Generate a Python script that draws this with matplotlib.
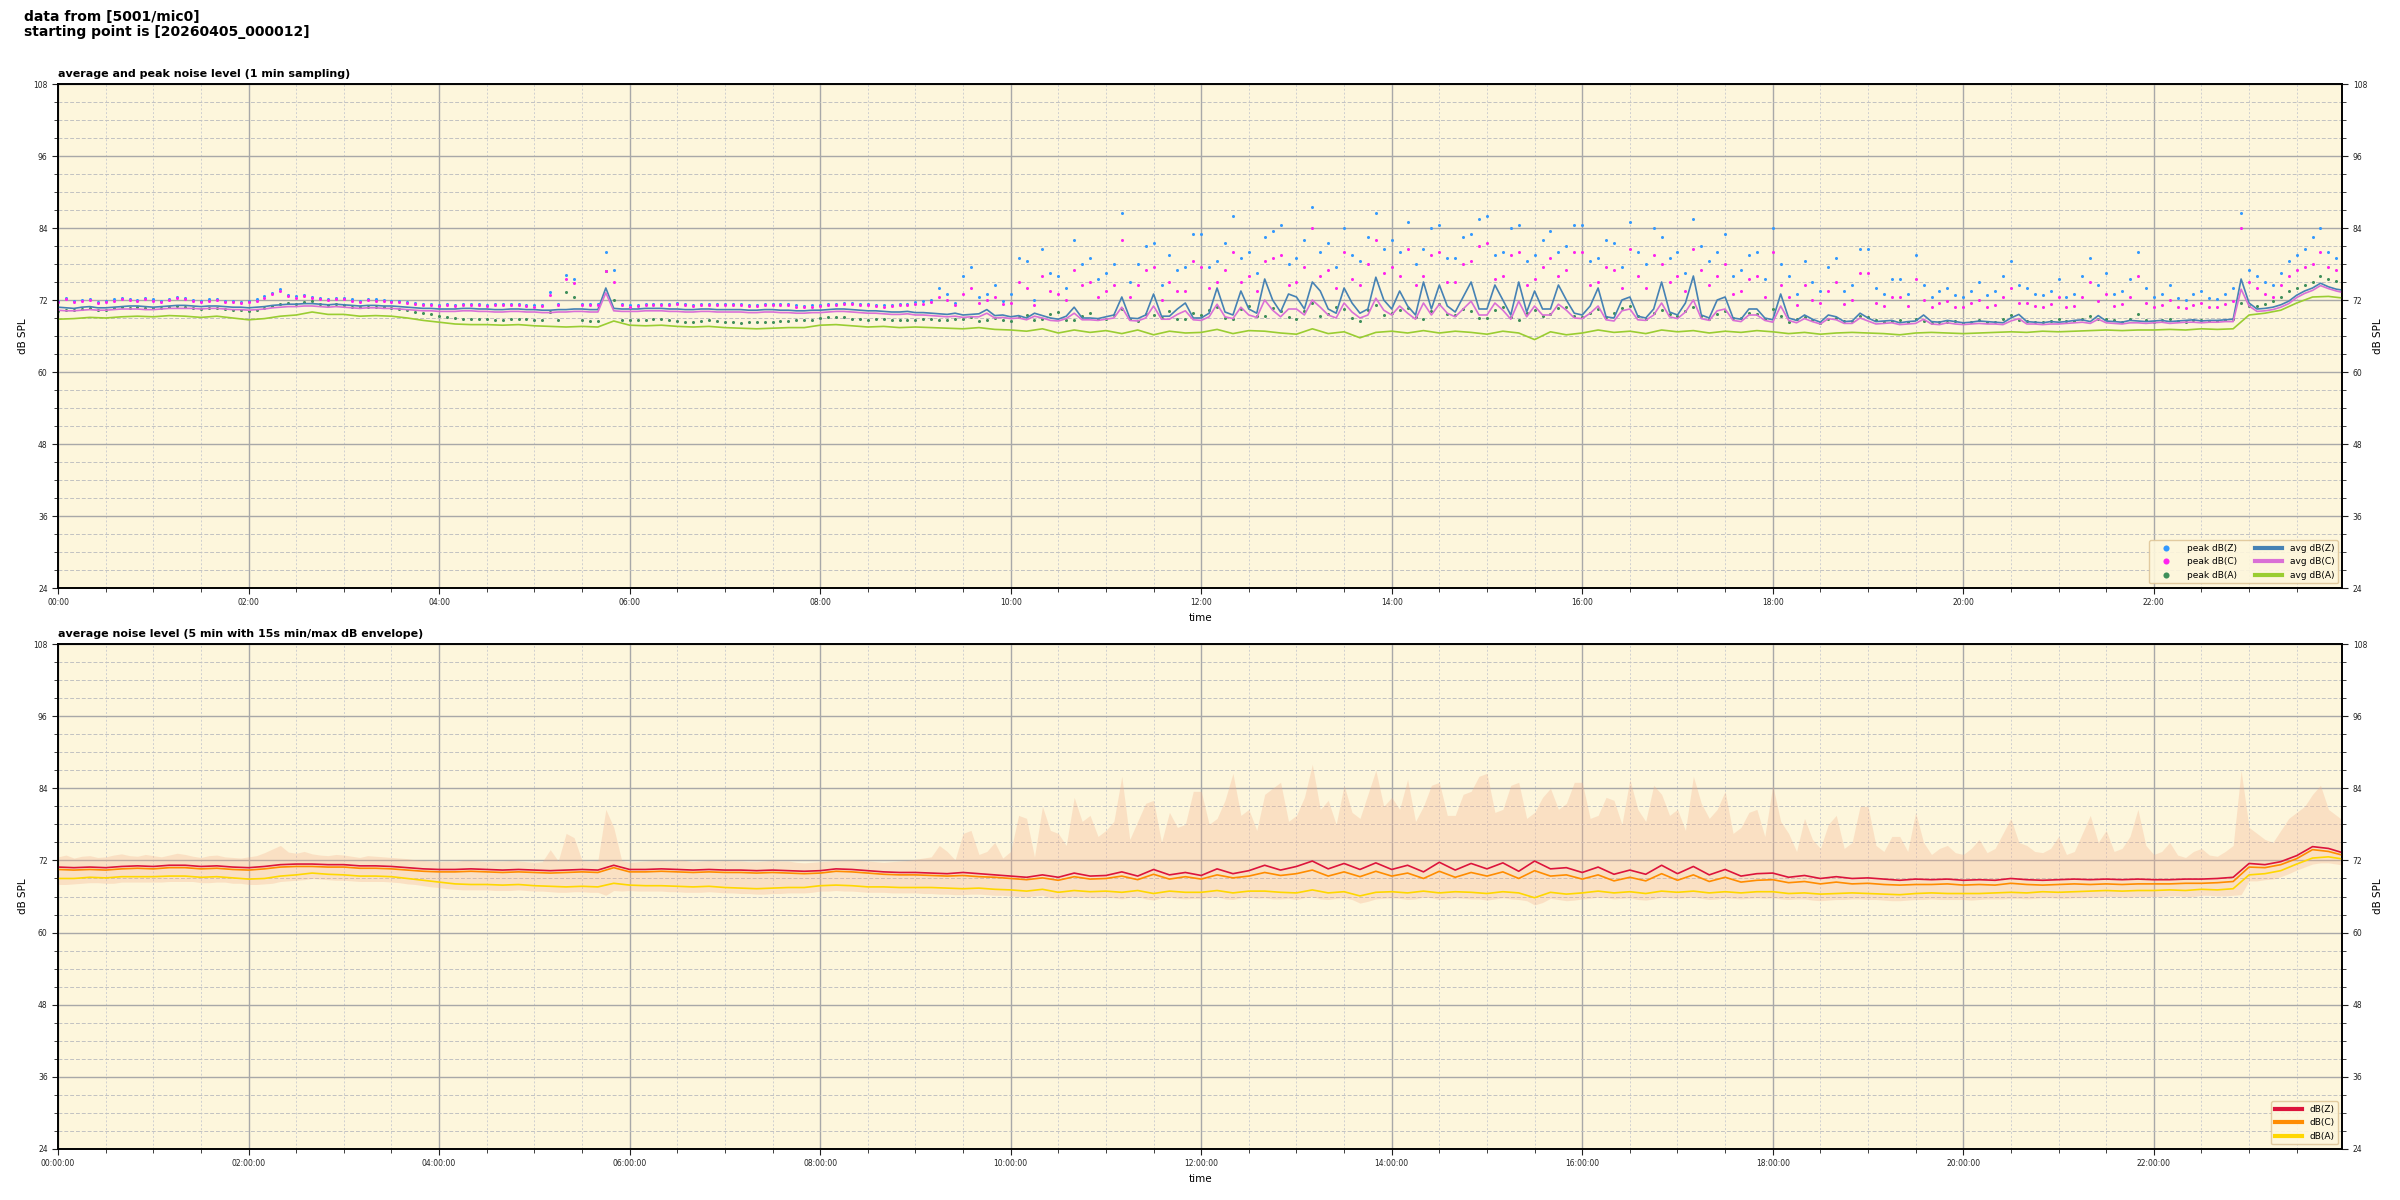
import numpy as np
import matplotlib
matplotlib.use("Agg")
import matplotlib.pyplot as plt
from matplotlib.ticker import MultipleLocator, FuncFormatter

# ---------------- data: 5-min resolution series (12 values per hour) ----------------
avg_z = [70.8, 70.7, 70.6, 70.8, 70.9, 70.7, 70.7, 70.8, 70.9, 71.0, 71.0, 70.9,
         70.8, 70.9, 71.0, 71.1, 71.1, 71.0, 70.9, 71.0, 71.0, 70.9, 70.8, 70.8,
         70.7, 70.8, 70.9, 71.1, 71.2, 71.3, 71.3, 71.4, 71.4, 71.3, 71.2, 71.3,
         71.2, 71.1, 71.0, 71.1, 71.1, 71.0, 71.0, 70.9, 70.8, 70.7, 70.6, 70.6,
         70.5, 70.5, 70.5, 70.6, 70.6, 70.5, 70.5, 70.4, 70.4, 70.5, 70.5, 70.4,
         70.4, 70.3, 70.3, 70.4, 70.4, 70.5, 70.5, 70.4, 70.4, 74.0, 70.6, 70.5,
         70.5, 70.5, 70.6, 70.6, 70.6, 70.5, 70.5, 70.4, 70.4, 70.5, 70.5, 70.4,
         70.4, 70.4, 70.4, 70.3, 70.3, 70.4, 70.4, 70.3, 70.3, 70.2, 70.2, 70.3,
         70.3, 70.4, 70.5, 70.5, 70.4, 70.3, 70.2, 70.2, 70.1, 70.0, 70.0, 70.1,
         69.9, 69.9, 69.8, 69.7, 69.6, 69.8, 69.5, 69.6, 69.7, 70.4, 69.4, 69.5,
         69.2, 69.4, 69.0, 69.8, 69.4, 69.0, 68.8, 69.3, 70.8, 69.0, 69.0, 68.9,
         69.2, 69.5, 72.5, 69.0, 68.9, 69.5, 73.0, 69.3, 69.3, 70.5, 71.5, 69.0,
         69.0, 69.8, 74.0, 70.0, 69.5, 73.5, 70.5, 69.8, 75.5, 72.0, 70.0, 73.0,
         72.5, 70.5, 75.0, 73.5, 70.5, 69.8, 74.0, 71.5, 69.8, 70.5, 75.8, 72.0,
         70.5, 73.5, 71.0, 69.5, 75.0, 70.5, 74.5, 71.0, 70.0, 72.5, 75.0, 70.5,
         70.5, 74.5, 72.0, 69.5, 75.0, 70.0, 73.5, 70.5, 70.5, 74.5, 72.0, 69.8,
         69.5, 71.0, 74.0, 69.2, 69.0, 72.0, 72.5, 69.3, 69.0, 70.5, 75.0, 70.0,
         69.5, 71.5, 76.0, 69.5, 69.0, 72.0, 72.5, 69.0, 68.8, 70.5, 70.5, 69.0,
         68.7, 73.0, 69.0, 68.6, 69.5, 68.8, 68.3, 69.5, 69.2, 68.4, 68.5, 69.8,
         69.0, 68.4, 68.5, 68.6, 68.2, 68.4, 68.5, 69.5, 68.4, 68.3, 68.6, 68.4,
         68.2, 68.3, 68.5, 68.4, 68.3, 68.2, 69.0, 69.6, 68.4, 68.3, 68.2, 68.4,
         68.3, 68.4, 68.6, 68.7, 68.4, 69.4, 68.5, 68.4, 68.3, 68.6, 68.5, 68.4,
         68.5, 68.6, 68.4, 68.5, 68.6, 68.7, 68.5, 68.6, 68.6, 68.7, 68.8, 75.5,
         71.5, 70.5, 70.6, 70.8, 71.2, 71.8, 72.8, 73.5, 74.0, 74.8, 74.2, 73.8,
         73.6]
avg_c = [70.3, 70.2, 70.2, 70.3, 70.4, 70.3, 70.3, 70.4, 70.5, 70.5, 70.5, 70.4,
         70.4, 70.5, 70.6, 70.6, 70.6, 70.6, 70.5, 70.6, 70.6, 70.5, 70.4, 70.4,
         70.3, 70.4, 70.5, 70.7, 70.8, 70.9, 70.9, 71.0, 71.0, 70.9, 70.8, 70.9,
         70.8, 70.7, 70.6, 70.7, 70.7, 70.6, 70.6, 70.5, 70.4, 70.3, 70.2, 70.2,
         70.1, 70.1, 70.1, 70.2, 70.2, 70.1, 70.1, 70.0, 70.0, 70.1, 70.1, 70.0,
         70.0, 69.9, 69.9, 70.0, 70.0, 70.1, 70.1, 70.0, 70.0, 73.2, 70.2, 70.1,
         70.1, 70.1, 70.2, 70.2, 70.2, 70.1, 70.1, 70.0, 70.0, 70.1, 70.1, 70.0,
         70.0, 70.0, 70.0, 69.9, 69.9, 70.0, 70.0, 69.9, 69.9, 69.8, 69.8, 69.9,
         69.9, 70.0, 70.1, 70.1, 70.0, 69.9, 69.8, 69.8, 69.7, 69.6, 69.6, 69.7,
         69.5, 69.5, 69.4, 69.3, 69.2, 69.3, 69.1, 69.2, 69.2, 69.8, 69.0, 69.1,
         68.9, 69.0, 68.7, 69.3, 69.0, 68.6, 68.5, 68.9, 69.8, 68.7, 68.7, 68.6,
         68.8, 69.0, 70.8, 68.6, 68.5, 69.0, 71.0, 68.8, 68.8, 69.6, 70.2, 68.7,
         68.6, 69.2, 71.3, 69.2, 68.9, 70.8, 69.5, 69.1, 72.0, 70.3, 69.2, 70.5,
         70.5, 69.5, 72.0, 70.8, 69.5, 69.0, 71.5, 70.0, 69.0, 69.5, 72.3, 70.3,
         69.5, 71.0, 69.8, 68.8, 71.5, 69.5, 71.3, 69.8, 69.2, 70.5, 71.8, 69.5,
         69.5, 71.5, 70.3, 68.8, 71.8, 69.2, 71.0, 69.5, 69.5, 71.3, 70.3, 69.0,
         68.9, 69.8, 71.0, 68.7, 68.5, 70.2, 70.5, 68.7, 68.6, 69.5, 71.5, 69.2,
         68.9, 70.0, 72.0, 68.9, 68.6, 70.2, 70.5, 68.6, 68.4, 69.5, 69.5, 68.6,
         68.3, 71.0, 68.6, 68.2, 68.9, 68.4, 68.0, 68.9, 68.7, 68.1, 68.1, 69.0,
         68.5, 68.0, 68.1, 68.2, 67.9, 68.0, 68.1, 68.8, 68.0, 67.9, 68.2, 68.0,
         67.9, 68.0, 68.1, 68.0, 68.0, 67.9, 68.5, 68.9, 68.0, 68.0, 67.9, 68.0,
         68.0, 68.1, 68.2, 68.3, 68.1, 68.8, 68.2, 68.1, 68.0, 68.2, 68.2, 68.1,
         68.2, 68.3, 68.1, 68.2, 68.3, 68.3, 68.2, 68.3, 68.3, 68.4, 68.4, 73.8,
         71.0, 70.1, 70.2, 70.4, 70.8, 71.4, 72.4, 73.1, 73.6, 74.4, 73.9, 73.5,
         73.2]
peak_z = [71.9, 72.3, 71.8, 72.0, 72.2, 71.7, 71.9, 72.1, 72.4, 72.2, 72.0, 72.3,
          72.1, 71.9, 72.2, 72.5, 72.4, 72.0, 71.8, 72.1, 72.2, 71.9, 71.8, 71.7,
          71.9, 72.1, 72.6, 73.2, 73.8, 72.8, 72.6, 72.9, 72.5, 72.3, 72.2, 72.4,
          72.3, 72.1, 71.9, 72.2, 72.1, 72.0, 71.9, 71.8, 71.7, 71.5, 71.4, 71.3,
          71.2, 71.3, 71.2, 71.4, 71.4, 71.3, 71.2, 71.3, 71.3, 71.4, 71.3, 71.2,
          71.1, 71.2, 73.3, 71.3, 76.2, 75.5, 71.4, 71.3, 71.4, 80.0, 77.0, 71.4,
          71.1, 71.2, 71.3, 71.4, 71.4, 71.3, 71.5, 71.4, 71.2, 71.3, 71.4, 71.3,
          71.4, 71.3, 71.3, 71.2, 71.2, 71.3, 71.4, 71.3, 71.3, 71.1, 71.0, 71.1,
          71.2, 71.3, 71.4, 71.5, 71.5, 71.4, 71.3, 71.2, 71.1, 71.2, 71.3, 71.4,
          71.6, 71.8, 72.0, 74.0, 73.0, 71.5, 76.0, 77.5, 72.5, 73.0, 74.5, 71.8,
          73.0, 79.0, 78.5, 72.0, 80.5, 76.5, 76.0, 74.0, 82.0, 78.0, 79.0, 75.5,
          76.5, 78.0, 86.5, 75.0, 78.0, 81.0, 81.5, 74.5, 79.5, 77.0, 77.5, 83.0,
          83.0, 77.5, 78.5, 81.5, 86.0, 79.0, 80.0, 76.5, 82.5, 83.5, 84.5, 78.0,
          79.0, 82.0, 87.5, 80.0, 81.5, 77.5, 84.0, 79.5, 78.5, 82.5, 86.5, 80.5,
          82.0, 80.0, 85.0, 78.0, 80.5, 84.0, 84.5, 79.0, 79.0, 82.5, 83.0, 85.5,
          86.0, 79.5, 80.0, 84.0, 84.5, 78.5, 79.5, 82.0, 83.5, 80.0, 81.0, 84.5,
          84.5, 78.5, 79.0, 82.0, 81.5, 77.5, 85.0, 80.0, 78.0, 84.0, 82.5, 79.0,
          80.0, 76.5, 85.5, 81.0, 78.5, 80.0, 83.0, 76.0, 77.0, 79.5, 80.0, 75.5,
          84.0, 78.0, 76.0, 73.0, 78.5, 75.0, 73.5, 77.5, 79.0, 73.5, 74.5, 80.5,
          80.5, 74.0, 73.0, 75.5, 75.5, 73.0, 79.5, 74.5, 72.5, 73.5, 74.0, 72.8,
          72.5, 73.5, 75.0, 72.8, 73.5, 76.0, 78.5, 74.5, 74.0, 73.0, 72.8, 73.5,
          75.5, 72.5, 73.0, 76.0, 79.0, 74.5, 76.5, 73.0, 73.5, 75.5, 80.0, 74.0,
          72.5, 73.0, 74.5, 72.4, 72.0, 73.0, 73.5, 72.4, 72.2, 73.0, 74.0, 86.5,
          77.0, 76.0, 75.0, 74.5, 76.5, 78.5, 79.5, 80.5, 82.5, 84.0, 80.0, 79.0,
          78.0]
peak_c = [71.7, 72.1, 71.6, 71.8, 72.0, 71.5, 71.7, 71.9, 72.2, 72.0, 71.8, 72.1,
          71.9, 71.7, 72.0, 72.3, 72.2, 71.8, 71.6, 71.9, 72.0, 71.7, 71.6, 71.5,
          71.7, 71.9, 72.4, 73.0, 73.5, 72.6, 72.4, 72.7, 72.3, 72.1, 72.0, 72.2,
          72.1, 71.9, 71.7, 72.0, 71.9, 71.8, 71.7, 71.6, 71.5, 71.3, 71.2, 71.1,
          71.0, 71.1, 71.0, 71.2, 71.2, 71.1, 71.0, 71.1, 71.1, 71.2, 71.1, 71.0,
          70.9, 71.0, 72.8, 71.1, 75.5, 74.8, 71.2, 71.1, 71.2, 76.9, 75.0, 71.2,
          70.9, 71.0, 71.1, 71.2, 71.2, 71.1, 71.3, 71.2, 71.0, 71.1, 71.2, 71.1,
          71.2, 71.1, 71.1, 71.0, 71.0, 71.1, 71.2, 71.1, 71.1, 70.9, 70.8, 70.9,
          71.0, 71.1, 71.2, 71.3, 71.3, 71.2, 71.1, 71.0, 70.9, 71.0, 71.1, 71.2,
          71.3, 71.4, 71.6, 72.5, 72.0, 71.2, 73.0, 74.0, 71.5, 72.0, 72.5, 71.3,
          71.5, 75.0, 74.0, 71.2, 76.0, 73.5, 73.0, 72.0, 77.0, 74.5, 75.0, 72.5,
          73.5, 74.5, 82.0, 72.5, 74.5, 77.0, 77.5, 72.0, 75.0, 73.5, 73.5, 78.5,
          77.5, 74.0, 75.0, 77.0, 80.0, 75.0, 76.0, 73.5, 78.5, 79.0, 79.5, 74.5,
          75.0, 77.5, 84.0, 76.0, 77.0, 74.0, 80.0, 75.5, 74.5, 78.0, 82.0, 76.5,
          77.5, 76.0, 80.5, 74.5, 76.0, 79.5, 80.0, 75.0, 75.0, 78.0, 78.5, 81.0,
          81.5, 75.5, 76.0, 79.5, 80.0, 74.5, 75.5, 77.5, 79.0, 76.0, 77.0, 80.0,
          80.0, 74.5, 75.0, 77.5, 77.0, 74.0, 80.5, 76.0, 74.0, 79.5, 78.0, 75.0,
          76.0, 73.5, 80.5, 77.0, 74.5, 76.0, 78.0, 73.0, 73.5, 75.5, 76.0, 72.5,
          80.0, 74.5, 72.5, 71.2, 74.5, 72.0, 71.5, 73.5, 75.0, 71.3, 72.0, 76.5,
          76.5, 71.5, 71.0, 72.5, 72.5, 71.0, 75.5, 72.0, 70.8, 71.5, 71.8, 70.9,
          70.8, 71.5, 72.0, 70.9, 71.2, 72.5, 74.0, 71.5, 71.5, 71.0, 70.9, 71.3,
          72.5, 70.9, 71.0, 72.5, 75.0, 71.8, 73.0, 71.0, 71.3, 72.5, 76.0, 71.5,
          70.9, 71.2, 72.0, 70.8, 70.7, 71.2, 71.5, 70.8, 70.9, 71.3, 71.8, 84.0,
          75.0, 74.0, 73.0, 72.5, 74.5, 76.0, 77.0, 77.5, 78.0, 80.0, 77.5, 77.0,
          76.5]
peak_a = [70.2, 70.4, 70.3, 70.5, 70.6, 70.4, 70.4, 70.6, 70.8, 70.7, 70.8, 70.7,
          70.6, 70.7, 70.9, 71.0, 70.8, 70.6, 70.5, 70.7, 70.7, 70.5, 70.4, 70.3,
          70.2, 70.4, 70.6, 71.0, 71.3, 71.5, 71.4, 71.6, 71.8, 71.4, 71.2, 71.3,
          71.1, 70.9, 70.8, 70.9, 70.9, 70.8, 70.7, 70.5, 70.3, 70.0, 69.8, 69.6,
          69.3, 69.1, 69.0, 68.9, 68.9, 68.8, 68.8, 68.7, 68.7, 68.8, 68.9, 68.8,
          68.6, 68.7, 70.0, 68.6, 73.3, 72.5, 68.6, 68.5, 68.5, 76.9, 72.0, 68.6,
          68.7, 68.6, 68.6, 68.8, 68.8, 68.6, 68.5, 68.4, 68.4, 68.5, 68.6, 68.5,
          68.4, 68.3, 68.2, 68.3, 68.3, 68.4, 68.4, 68.5, 68.5, 68.6, 68.6, 68.7,
          69.0, 69.1, 69.2, 69.1, 68.9, 68.8, 68.7, 68.8, 68.8, 68.7, 68.6, 68.7,
          68.7, 68.8, 68.8, 68.7, 68.6, 68.9, 68.9, 69.2, 68.5, 68.6, 69.0, 68.7,
          68.5, 69.2, 69.5, 68.6, 68.8, 69.6, 70.0, 68.7, 68.6, 69.3, 69.8, 68.9,
          68.9, 69.5, 70.5, 68.8, 68.5, 69.7, 69.5, 69.0, 70.2, 68.9, 68.8, 69.8,
          69.5, 70.3, 70.8, 69.0, 68.9, 70.5, 71.0, 69.4, 69.3, 70.7, 70.2, 69.1,
          68.8, 70.2, 71.5, 69.3, 69.6, 70.8, 70.5, 69.0, 68.5, 70.3, 71.2, 69.5,
          69.8, 70.4, 70.6, 69.2, 68.9, 70.2, 71.3, 69.6, 69.5, 70.5, 70.1, 69.0,
          69.0, 70.3, 70.9, 69.1, 68.6, 69.9, 70.4, 69.3, 69.7, 70.6, 70.8, 69.4,
          69.2, 69.9, 70.5, 69.1, 69.8, 70.6, 71.0, 69.4, 68.9, 69.8, 70.3, 69.6,
          69.4, 70.1, 70.9, 69.3, 68.8, 69.7, 70.2, 69.0, 69.0, 69.8, 69.6, 68.9,
          70.5, 69.4, 68.4, 68.9, 69.1, 68.6, 68.2, 68.8, 69.0, 68.5, 68.5, 69.3,
          69.2, 68.6, 68.3, 68.5, 68.6, 68.4, 68.9, 68.5, 68.1, 68.3, 68.4, 68.5,
          68.2, 68.4, 68.6, 68.3, 68.4, 68.8, 69.5, 68.7, 68.5, 68.4, 68.3, 68.5,
          68.8, 68.5, 68.5, 68.9, 69.3, 68.8, 68.9, 68.6, 68.4, 68.9, 69.6, 68.7,
          68.4, 68.6, 68.9, 68.5, 68.3, 68.6, 68.7, 68.5, 68.5, 68.7, 68.8, 71.5,
          71.0, 71.0, 71.3, 71.8, 72.5, 73.5, 74.0, 74.5, 75.0, 76.0, 75.5, 75.2,
          75.0]
env_hi = [72.6, 72.9, 72.4, 72.7, 72.8, 72.5, 72.6, 72.9, 73.1, 72.8, 72.7, 73.0,
          72.8, 72.6, 72.9, 73.2, 73.0, 72.7, 72.5, 72.8, 72.9, 72.6, 72.5, 72.4,
          72.6, 72.8, 73.3, 73.9, 74.5, 73.4, 73.2, 73.5, 73.1, 72.9, 72.8, 73.0,
          72.9, 72.7, 72.5, 72.8, 72.7, 72.6, 72.5, 72.4, 72.3, 72.1, 72.0, 71.9,
          71.8, 71.9, 71.8, 72.0, 72.0, 71.9, 71.8, 71.9, 71.9, 72.0, 71.9, 71.8,
          71.7, 71.8, 73.8, 71.9, 76.5, 75.8, 72.0, 71.9, 72.0, 80.5, 77.5, 72.0,
          71.7, 71.8, 71.9, 72.0, 72.0, 71.9, 72.1, 72.0, 71.8, 71.9, 72.0, 71.9,
          72.0, 71.9, 71.9, 71.8, 71.8, 71.9, 72.0, 71.9, 71.9, 71.7, 71.6, 71.7,
          71.8, 71.9, 72.0, 72.1, 72.1, 72.0, 71.9, 71.8, 71.7, 71.8, 71.9, 72.0,
          72.2, 72.4, 72.6, 74.5, 73.5, 72.1, 76.5, 77.0, 73.0, 73.5, 75.0, 72.4,
          73.5, 79.5, 79.0, 72.6, 81.0, 77.0, 76.5, 74.5, 82.5, 78.5, 79.5, 76.0,
          77.0, 78.5, 86.0, 75.5, 78.5, 81.5, 82.0, 75.0, 80.0, 77.5, 78.0, 83.5,
          83.5, 78.0, 79.0, 82.0, 86.5, 79.5, 80.5, 77.0, 83.0, 84.0, 85.0, 78.5,
          79.5, 82.5, 88.0, 80.5, 82.0, 78.0, 84.5, 80.0, 79.0, 83.0, 87.0, 81.0,
          82.5, 80.5, 85.5, 78.5, 81.0, 84.5, 85.0, 79.5, 79.5, 83.0, 83.5, 86.0,
          86.5, 80.0, 80.5, 84.5, 85.0, 79.0, 80.0, 82.5, 84.0, 80.5, 81.5, 85.0,
          85.0, 79.0, 79.5, 82.5, 82.0, 78.0, 85.5, 80.5, 78.5, 84.5, 83.0, 79.5,
          80.5, 77.0, 86.0, 81.5, 79.0, 80.5, 83.5, 76.5, 77.5, 80.0, 80.5, 76.0,
          84.5, 78.5, 76.5, 73.5, 79.0, 75.5, 74.0, 78.0, 79.5, 74.0, 75.0, 81.0,
          81.0, 74.5, 73.5, 76.0, 76.0, 73.5, 80.0, 75.0, 73.0, 74.0, 74.5, 73.3,
          73.0, 74.0, 75.5, 73.3, 74.0, 76.5, 79.0, 75.0, 74.5, 73.5, 73.3, 74.0,
          76.0, 73.0, 73.5, 76.5, 79.5, 75.0, 77.0, 73.5, 74.0, 76.0, 80.5, 74.5,
          73.0, 73.5, 75.0, 72.9, 72.5, 73.5, 74.0, 72.9, 72.7, 73.5, 74.5, 87.0,
          77.5, 76.5, 75.5, 75.0, 77.0, 79.0, 80.0, 81.0, 83.0, 84.5, 80.5, 79.5,
          78.5]
env_lo = [68.0, 68.0, 68.1, 68.2, 68.3, 68.3, 68.2, 68.2, 68.4, 68.4, 68.4, 68.4,
          68.4, 68.4, 68.5, 68.5, 68.5, 68.5, 68.3, 68.3, 68.4, 68.4, 68.2, 68.2,
          68.0, 68.0, 68.1, 68.2, 68.5, 68.6, 68.7, 68.8, 69.0, 68.9, 68.8, 68.7,
          68.7, 68.6, 68.5, 68.5, 68.5, 68.5, 68.4, 68.3, 68.1, 68.0, 67.8, 67.6,
          67.5, 67.3, 67.2, 67.1, 67.1, 67.1, 67.1, 67.0, 67.0, 67.0, 67.1, 67.0,
          66.9, 66.9, 66.8, 66.7, 66.7, 66.8, 66.8, 66.7, 66.7, 66.2, 67.0, 66.9,
          67.0, 66.9, 66.9, 66.9, 66.9, 66.8, 66.8, 66.7, 66.7, 66.7, 66.8, 66.7,
          66.6, 66.6, 66.5, 66.5, 66.4, 66.4, 66.5, 66.5, 66.6, 66.6, 66.6, 66.7,
          66.9, 66.9, 67.0, 66.9, 66.9, 66.8, 66.7, 66.7, 66.7, 66.6, 66.6, 66.6,
          66.6, 66.5, 66.5, 66.4, 66.4, 66.3, 66.3, 66.4, 66.4, 66.3, 66.2, 66.2,
          66.1, 66.0, 65.9, 66.1, 66.2, 65.8, 65.7, 65.9, 66.0, 65.9, 65.8, 65.8,
          65.9, 65.8, 65.6, 65.9, 66.0, 65.6, 65.4, 65.8, 65.9, 65.7, 65.6, 65.7,
          65.7, 65.9, 66.0, 65.6, 65.5, 65.8, 65.9, 65.7, 65.8, 65.6, 65.6, 65.7,
          65.5, 65.8, 66.0, 65.6, 65.5, 65.7, 65.8, 65.5, 64.9, 65.2, 65.6, 65.7,
          65.8, 65.7, 65.5, 65.6, 65.9, 65.8, 65.5, 65.6, 65.8, 65.7, 65.6, 65.6,
          65.4, 65.6, 65.8, 65.6, 65.5, 65.3, 64.6, 65.0, 65.7, 65.5, 65.3, 65.4,
          65.6, 65.7, 65.9, 65.8, 65.6, 65.7, 65.8, 65.5, 65.4, 65.6, 65.9, 65.8,
          65.7, 65.8, 65.9, 65.7, 65.5, 65.6, 65.8, 65.7, 65.6, 65.7, 65.8, 65.7,
          65.8, 65.6, 65.5, 65.6, 65.6, 65.4, 65.3, 65.4, 65.5, 65.5, 65.6, 65.6,
          65.5, 65.5, 65.4, 65.3, 65.3, 65.4, 65.5, 65.5, 65.6, 65.5, 65.5, 65.5,
          65.5, 65.4, 65.5, 65.6, 65.6, 65.6, 65.7, 65.7, 65.6, 65.7, 65.8, 65.8,
          65.7, 65.7, 65.8, 65.8, 65.9, 65.9, 66.0, 66.0, 65.9, 65.9, 66.0, 66.0,
          66.0, 66.0, 66.1, 66.1, 66.0, 66.0, 66.2, 66.2, 66.1, 66.1, 66.2, 66.3,
          68.6, 68.6, 68.8, 68.9, 69.3, 69.8, 70.4, 70.9, 71.4, 71.6, 71.6, 71.4,
          71.2]

# ---------------- data: 10-min resolution series (6 values per hour) ----------------
avg_a = [68.8, 68.9, 69.1, 69.0, 69.2, 69.3,
         69.2, 69.4, 69.3, 69.1, 69.3, 69.0,
         68.7, 68.9, 69.3, 69.5, 70.0, 69.6,
         69.6, 69.3, 69.4, 69.3, 69.0, 68.6,
         68.3, 68.0, 67.9, 67.9, 67.8, 67.9,
         67.7, 67.6, 67.5, 67.6, 67.5, 68.5,
         67.8, 67.7, 67.8, 67.6, 67.5, 67.6,
         67.4, 67.3, 67.2, 67.3, 67.4, 67.4,
         67.8, 67.9, 67.7, 67.5, 67.6, 67.4,
         67.5, 67.4, 67.3, 67.2, 67.4, 67.1,
         67.0, 66.8, 67.2, 66.5, 67.0, 66.6,
         66.9, 66.4, 67.0, 66.2, 66.8, 66.5,
         66.6, 67.1, 66.4, 66.9, 66.8, 66.5,
         66.3, 67.2, 66.4, 66.7, 65.7, 66.6,
         66.8, 66.5, 66.9, 66.5, 66.8, 66.6,
         66.3, 66.8, 66.5, 65.4, 66.7, 66.2,
         66.5, 67.0, 66.6, 66.8, 66.4, 67.0,
         66.7, 66.9, 66.5, 66.8, 66.6, 66.9,
         66.7, 66.4, 66.6, 66.3, 66.5, 66.6,
         66.5, 66.4, 66.2, 66.5, 66.6, 66.5,
         66.4, 66.5, 66.6, 66.7, 66.6, 66.8,
         66.7, 66.8, 66.9, 67.0, 66.9, 67.0,
         67.0, 67.1, 67.0, 67.2, 67.1, 67.2,
         69.5, 69.8, 70.3, 71.5, 72.5, 72.6,
         72.3]
lvl_z = [70.9, 70.8, 70.9, 70.8, 71.0, 71.1,
         71.0, 71.2, 71.2, 71.0, 71.1, 70.9,
         70.8, 71.0, 71.3, 71.4, 71.4, 71.3,
         71.3, 71.1, 71.1, 71.0, 70.8, 70.6,
         70.5, 70.5, 70.6, 70.5, 70.4, 70.5,
         70.4, 70.3, 70.4, 70.5, 70.4, 71.2,
         70.5, 70.5, 70.6, 70.5, 70.4, 70.5,
         70.4, 70.4, 70.3, 70.4, 70.3, 70.2,
         70.3, 70.6, 70.5, 70.3, 70.1, 70.0,
         70.0, 69.9, 69.8, 70.0, 69.8, 69.6,
         69.4, 69.2, 69.6, 69.2, 69.9, 69.4,
         69.5, 70.1, 69.4, 70.5, 69.6, 70.0,
         69.5, 70.6, 69.8, 70.3, 71.2, 70.4,
         71.0, 71.9, 70.6, 71.5, 70.5, 71.6,
         70.5, 71.2, 70.1, 71.7, 70.4, 71.5,
         70.6, 71.6, 70.2, 71.9, 70.6, 70.8,
         70.0, 70.9, 69.7, 70.4, 69.7, 71.2,
         69.8, 71.0, 69.6, 70.5, 69.4, 69.8,
         69.9, 69.2, 69.5, 69.0, 69.3, 69.0,
         69.1, 68.9, 68.7, 68.9, 68.8, 68.9,
         68.7, 68.8, 68.7, 69.0, 68.8, 68.7,
         68.8, 68.9, 68.8, 68.9, 68.8, 68.9,
         68.8, 68.8, 68.9, 68.9, 69.0, 69.2,
         71.5, 71.3, 71.8, 72.8, 74.3, 74.0,
         73.2]
lvl_c = [70.5, 70.4, 70.5, 70.4, 70.6, 70.7,
         70.6, 70.8, 70.8, 70.6, 70.7, 70.5,
         70.4, 70.6, 70.9, 71.0, 71.0, 70.9,
         70.9, 70.7, 70.7, 70.6, 70.4, 70.2,
         70.1, 70.1, 70.2, 70.1, 70.0, 70.1,
         70.0, 69.9, 70.0, 70.1, 70.0, 70.8,
         70.1, 70.1, 70.2, 70.1, 70.0, 70.1,
         70.0, 70.0, 69.9, 70.0, 69.9, 69.8,
         69.9, 70.2, 70.1, 69.9, 69.7, 69.6,
         69.6, 69.5, 69.4, 69.5, 69.3, 69.2,
         69.0, 68.8, 69.1, 68.7, 69.3, 68.9,
         69.0, 69.4, 68.8, 69.7, 68.9, 69.3,
         68.9, 69.6, 69.1, 69.4, 70.0, 69.5,
         69.8, 70.4, 69.4, 70.1, 69.3, 70.2,
         69.4, 69.9, 69.0, 70.2, 69.2, 70.0,
         69.4, 70.1, 69.0, 70.3, 69.4, 69.6,
         68.9, 69.6, 68.6, 69.2, 68.6, 69.8,
         68.7, 69.6, 68.5, 69.2, 68.4, 68.7,
         68.8, 68.3, 68.5, 68.1, 68.4, 68.1,
         68.2, 68.0, 67.9, 68.0, 68.0, 68.1,
         67.9, 68.0, 67.9, 68.2, 68.0, 67.9,
         68.0, 68.1, 68.0, 68.1, 68.0, 68.1,
         68.1, 68.1, 68.2, 68.2, 68.3, 68.5,
         70.9, 70.8, 71.3, 72.3, 73.8, 73.5,
         72.8]
lvl_a = [69.0, 69.0, 69.2, 69.1, 69.3, 69.3,
         69.3, 69.4, 69.4, 69.2, 69.3, 69.1,
         68.9, 69.0, 69.4, 69.6, 69.9, 69.7,
         69.6, 69.4, 69.4, 69.3, 69.0, 68.7,
         68.4, 68.1, 68.0, 68.0, 67.9, 68.0,
         67.8, 67.7, 67.6, 67.7, 67.6, 68.2,
         67.9, 67.8, 67.8, 67.7, 67.6, 67.7,
         67.5, 67.4, 67.3, 67.4, 67.5, 67.5,
         67.8, 67.9, 67.8, 67.6, 67.6, 67.5,
         67.5, 67.5, 67.4, 67.3, 67.4, 67.2,
         67.1, 66.9, 67.2, 66.7, 67.0, 66.8,
         66.9, 66.7, 67.0, 66.5, 66.9, 66.7,
         66.7, 67.0, 66.6, 66.9, 66.9, 66.7,
         66.6, 67.1, 66.6, 66.8, 66.1, 66.7,
         66.8, 66.6, 66.9, 66.6, 66.8, 66.7,
         66.5, 66.8, 66.6, 65.8, 66.7, 66.4,
         66.6, 66.9, 66.6, 66.8, 66.5, 66.9,
         66.7, 66.9, 66.6, 66.8, 66.6, 66.8,
         66.8, 66.5, 66.6, 66.4, 66.5, 66.6,
         66.5, 66.4, 66.3, 66.5, 66.6, 66.5,
         66.5, 66.5, 66.6, 66.7, 66.6, 66.8,
         66.7, 66.8, 66.9, 67.0, 66.9, 67.0,
         67.0, 67.1, 67.0, 67.2, 67.1, 67.3,
         69.6, 69.8, 70.3, 71.4, 72.4, 72.6,
         72.2]

h5 = np.arange(len(avg_z)) / 12.0
h10 = np.arange(len(avg_a)) / 6.0

# ---------------- styling ----------------
BG = "#fdf6dc"
plt.rcParams["font.family"] = ["DejaVu Sans"]

fig = plt.figure(figsize=(24, 12), dpi=100)
ax1 = fig.add_axes([0.0242, 0.51, 0.9518, 0.42])
ax2 = fig.add_axes([0.0242, 0.0425, 0.9518, 0.4208])

fig.text(0.0098, 0.992, "data from [5001/mic0]\nstarting point is [20260405_000012]",
         ha="left", va="top", fontsize=10, fontweight="bold", linespacing=1.1)


def style(ax, fmt):
    ax.set_facecolor(BG)
    ax.set_xlim(0, 23.98)
    ax.set_ylim(24, 108)
    ax.xaxis.set_major_locator(MultipleLocator(2))
    ax.xaxis.set_minor_locator(MultipleLocator(0.5))
    ax.yaxis.set_major_locator(MultipleLocator(12))
    ax.yaxis.set_minor_locator(MultipleLocator(3))
    ax.xaxis.set_major_formatter(FuncFormatter(lambda v, p: fmt % int(round(v))))
    ax.grid(which="major", color="#a8a8a8", lw=1.0, ls="-")
    ax.grid(which="minor", axis="y", color="#c2c2c2", lw=0.7, ls=(0, (4, 2)))
    ax.grid(which="minor", axis="x", color="#cfcfcf", lw=0.7, ls=(0, (2, 2)))
    ax.set_axisbelow(True)
    ax.tick_params(which="both", labelsize=5.5, direction="out", colors="#222222")
    ax.tick_params(which="major", length=4)
    ax.tick_params(which="minor", length=3)
    ax.set_xlabel("time", fontsize=7.5)
    ax.set_ylabel("dB SPL", fontsize=7.5)
    for s in ax.spines.values():
        s.set_linewidth(1.2)
    tw = ax.twinx()
    tw.set_ylim(24, 108)
    tw.yaxis.set_major_locator(MultipleLocator(12))
    tw.yaxis.set_minor_locator(MultipleLocator(3))
    tw.tick_params(which="both", labelsize=5.5, direction="out", colors="#222222")
    tw.tick_params(which="major", length=4)
    tw.tick_params(which="minor", length=3)
    tw.set_ylabel("dB SPL", fontsize=7.5)
    for s in tw.spines.values():
        s.set_linewidth(1.2)
    return tw


# ---------------- top chart ----------------
style(ax1, "%02d:00")
ax1.set_title("average and peak noise level (1 min sampling)", loc="left",
              fontsize=8, fontweight="bold", pad=5)
ax1.plot(h5, peak_a, ls="none", marker="o", ms=2.2, mew=0, color="#3f8f5a",
         label="peak dB(A)", zorder=2.5)
ax1.plot(h5, avg_z, color="#4682b4", lw=1.2, label="avg dB(Z)", zorder=3)
ax1.plot(h5, avg_c, color="#da70d6", lw=1.2, label="avg dB(C)", zorder=3)
ax1.plot(h10, avg_a, color="#9acd32", lw=1.2, label="avg dB(A)", zorder=3)
ax1.plot(h5, peak_z, ls="none", marker="o", ms=2.2, mew=0, color="#3399ff",
         label="peak dB(Z)", zorder=4)
ax1.plot(h5, peak_c, ls="none", marker="o", ms=2.2, mew=0, color="#ff22ee",
         label="peak dB(C)", zorder=4)
h, l = ax1.get_legend_handles_labels()
idx = {lab: i for i, lab in enumerate(l)}
order = ["peak dB(Z)", "peak dB(C)", "peak dB(A)", "avg dB(Z)", "avg dB(C)", "avg dB(A)"]
leg1 = ax1.legend([h[idx[o]] for o in order], order, loc="lower right",
                  ncol=2, fontsize=6.5, markerscale=2, frameon=True, fancybox=True,
                  facecolor=BG, edgecolor="#e0c79a", framealpha=0.9,
                  handlelength=3, columnspacing=2)
for line in leg1.get_lines():
    if line.get_linestyle() != "None":
        line.set_linewidth(3)
leg1.set_zorder(10)

# ---------------- bottom chart ----------------
style(ax2, "%02d:00:00")
ax2.set_title("average noise level (5 min with 15s min/max dB envelope)", loc="left",
              fontsize=8, fontweight="bold", pad=5)
ax2.fill_between(h5, env_lo, env_hi, color="#f5b08c", alpha=0.3, lw=0, zorder=2)
ax2.plot(h10, lvl_a, color="#ffd700", lw=1.2, label="dB(A)", zorder=3)
ax2.plot(h10, lvl_c, color="#ff8c00", lw=1.2, label="dB(C)", zorder=3)
ax2.plot(h10, lvl_z, color="#dc143c", lw=1.2, label="dB(Z)", zorder=3)
h, l = ax2.get_legend_handles_labels()
leg2 = ax2.legend(h[::-1], l[::-1], loc="lower right", fontsize=6.5, frameon=True,
                  facecolor=BG, edgecolor="#e0c79a", framealpha=0.9, handlelength=3)
for line in leg2.get_lines():
    line.set_linewidth(3)
leg2.set_zorder(10)

fig.savefig("out.png", dpi=100, facecolor="white")
